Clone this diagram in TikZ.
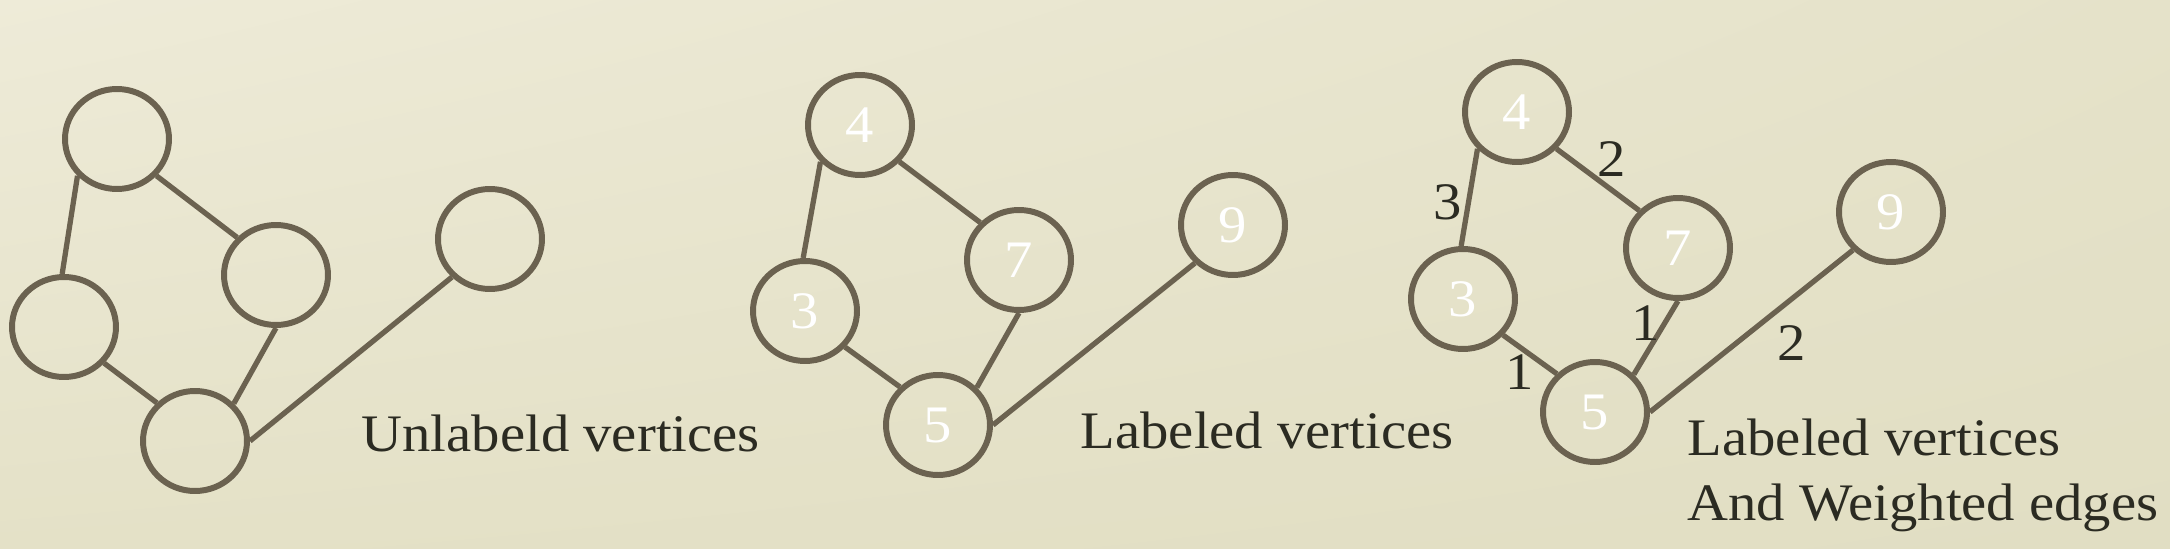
\documentclass[tikz,border=0pt]{standalone}
\usepackage{fontspec}
\setmainfont{Liberation Serif}[FakeStretch = 1.075]
\usetikzlibrary{shapes.geometric,shadings}
\definecolor{edgecol}{HTML}{6B6250}
\definecolor{textcol}{HTML}{2B2B22}
\definecolor{bgA}{HTML}{EEEBD8}
\definecolor{bgB}{HTML}{E5E2C9}
\definecolor{bgC}{HTML}{E4E1C7}
\definecolor{bgD}{HTML}{E1DEC3}
\begin{document}
\begin{tikzpicture}[
		vertex/.style = {draw = edgecol, line width = 1.7pt, ellipse, minimum width = 1.04cm, minimum height = 1.0cm, inner sep = 0pt, text = white, font = \fontsize{15}{18}\selectfont},
		link/.style = {draw = edgecol, line width = 1.5pt},
		weight/.style = {text = textcol, font = \fontsize{15}{18}\selectfont},
		caption/.style = {anchor = base west, inner sep = 0pt, text = textcol, font = \fontsize{15}{18}\selectfont}]
				\shade [upper left = bgA, upper right = bgB, lower left = bgC, lower right = bgD] (0,0) rectangle (21.7,5.48);
				\useasboundingbox (0,0) rectangle (21.7,5.48);
				\node [vertex] (ua) at (1.17,4.09) {};
				\node [vertex] (ub) at (0.64,2.21) {};
				\node [vertex] (uc) at (2.76,2.73) {};
				\node [vertex] (ud) at (1.95,1.07) {};
				\node [vertex] (ue) at (4.90,3.09) {};
				\draw [link] (ua.-137) -- (ub.92);
				\draw [link] (ua.-43) -- (uc.136);
				\draw [link] (ub.-42) -- (ud.135);
				\draw [link] (uc.-90) -- (ud.44);
				\draw [link] (ud.0) -- (ue.-135);
				\node [caption] (ucap) at (3.61,0.97) {Unlabeld vertices};
				\node [vertex] (l4) at (8.60,4.23) {4};
				\node [vertex] (l3) at (8.05,2.37) {3};
				\node [vertex] (l7) at (10.19,2.88) {7};
				\node [vertex] (l5) at (9.38,1.23) {5};
				\node [vertex] (l9) at (12.33,3.23) {9};
				\draw [link] (l4.-137) -- (l3.92);
				\draw [link] (l4.-43) -- (l7.136);
				\draw [link] (l3.-42) -- (l5.135);
				\draw [link] (l7.-90) -- (l5.44);
				\draw [link] (l5.0) -- (l9.-135);
				\node [caption] (lcap) at (10.80,1.00) {Labeled vertices};
				\node [vertex] (w4) at (15.17,4.36) {4};
				\node [vertex] (w3) at (14.63,2.49) {3};
				\node [vertex] (w7) at (16.78,3.00) {7};
				\node [vertex] (w5) at (15.95,1.36) {5};
				\node [vertex] (w9) at (18.91,3.36) {9};
				\draw [link] (w4.-137) -- (w3.92);
				\draw [link] (w4.-43) -- (w7.136);
				\draw [link] (w3.-42) -- (w5.135);
				\draw [link] (w7.-90) -- (w5.44);
				\draw [link] (w5.0) -- (w9.-135);
				\node [weight] (k43) at (14.48,3.46) {3};
				\node [weight] (k47) at (16.12,3.89) {2};
				\node [weight] (k75) at (16.46,2.25) {1};
				\node [weight] (k35) at (15.20,1.76) {1};
				\node [weight] (k59) at (17.92,2.05) {2};
				\node [caption] (wcap) at (16.87,0.93) {Labeled vertices};
				\node [caption] (wcapb) at (16.87,0.28) {And Weighted edges};
		\end{tikzpicture}
\end{document}
